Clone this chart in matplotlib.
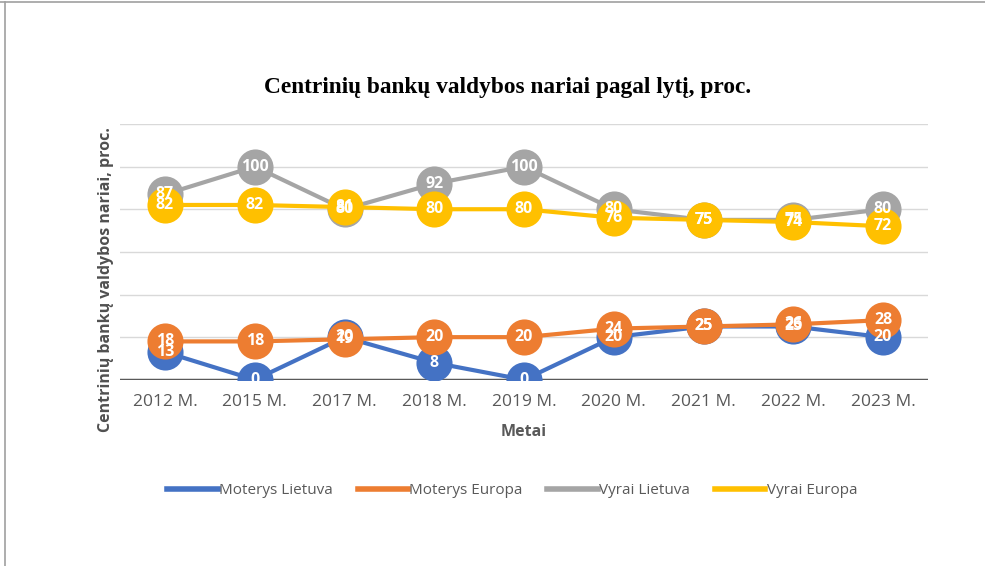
import matplotlib.pyplot as plt
from matplotlib.lines import Line2D

years = ['2012 M.', '2015 M.', '2017 M.', '2018 M.', '2019 M.',
         '2020 M.', '2021 M.', '2022 M.', '2023 M.']
moterys_lt = [13, 0, 20, 8, 0, 20, 25, 25, 20]
moterys_eu = [18, 18, 19, 20, 20, 24, 25, 26, 28]
vyrai_lt = [87, 100, 80, 92, 100, 80, 75, 75, 80]
vyrai_eu = [82, 82, 81, 80, 80, 76, 75, 74, 72]

series = [
    ('Moterys Lietuva', moterys_lt, '#4472C4'),
    ('Moterys Europa', moterys_eu, '#ED7D31'),
    ('Vyrai Lietuva', vyrai_lt, '#A5A5A5'),
    ('Vyrai Europa', vyrai_eu, '#FFC000'),
]

plt.rcParams['font.family'] = ['Open Sans', 'DejaVu Sans']

fig = plt.figure(figsize=(9.85, 5.66), dpi=100)
ax = fig.add_axes([0.122, 0.329, 0.820, 0.452])

x = list(range(len(years)))

# Lines with big circle markers
for name, vals, col in series:
    ax.plot(x, vals, color=col, linewidth=3, marker='o', markersize=26,
            markeredgewidth=0, label=name, zorder=3)

# Value labels, drawn over all markers (overlaps as in the source chart)
for name, vals, col in series:
    for xi, v in zip(x, vals):
        ax.text(xi, v, str(v), ha='center', va='center', color='white',
                fontsize=11.5, fontweight='bold', zorder=5)

ax.set_xlim(-0.5, len(years) - 0.5)
ax.set_ylim(0, 120)
ax.set_yticks([0, 20, 40, 60, 80, 100, 120])
ax.set_yticklabels([])
ax.tick_params(axis='y', length=0)
ax.grid(axis='y', color='#D9D9D9', linewidth=1, zorder=0)
ax.axhline(0, color='#595959', linewidth=2.5, zorder=2)
for s in ax.spines.values():
    s.set_visible(False)

ax.set_xticks(x)
ax.set_xticklabels(years, fontsize=12.5, color='#595959')
ax.tick_params(axis='x', length=0, pad=10)
ax.set_xlabel('Metai', fontsize=11.5, fontweight='bold', color='#595959', labelpad=10)
ax.set_ylabel('Centrinių bankų valdybos nariai, proc.', fontsize=11.5,
              fontweight='bold', color='#505050')
ax.yaxis.set_label_coords(-0.008, 0.39)

fig.text(0.515, 0.846, 'Centrinių bankų valdybos nariai pagal lytį, proc.',
         ha='center', va='center', fontsize=16.8, fontweight='bold',
         family='Liberation Serif')

handles = [Line2D([0], [0], color=col, linewidth=4) for _, _, col in series]
fig.legend(handles, [s[0] for s in series], loc='center', ncol=4,
           bbox_to_anchor=(0.52, 0.133), frameon=False, fontsize=11,
           handlelength=3.3, handletextpad=0.1, columnspacing=1.6,
           labelcolor='#595959')

# Outer border lines
fig.add_artist(Line2D([0, 1], [0.996, 0.996], color='#A0A0A0', linewidth=1.2))
fig.add_artist(Line2D([0.005, 0.005], [0, 0.996], color='#A0A0A0', linewidth=1.2))

fig.savefig('out.png', dpi=100)
